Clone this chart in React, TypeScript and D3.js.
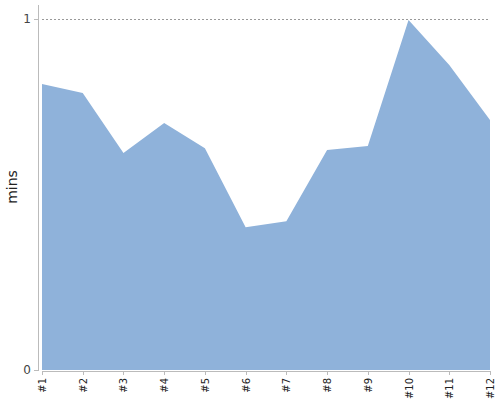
import React, { useEffect, useRef } from "react";
import * as d3 from "d3";

const categories = ["#1", "#2", "#3", "#4", "#5", "#6", "#7", "#8", "#9", "#10", "#11", "#12"];
const values = [0.815, 0.789, 0.618, 0.704, 0.632, 0.407, 0.424, 0.627, 0.638, 0.997, 0.869, 0.712];
const yTicks = [0, 1];

const App = () => {
  const ref = useRef<SVGSVGElement>(null);

  useEffect(() => {
    const width = 500;
    const height = 400;
    const svg = d3.select(ref.current).attr("width", width).attr("height", height);
    svg.selectAll("*").remove();

    const x = d3.scalePoint().domain(categories).range([42, 490]);
    const y = d3.scaleLinear().domain([0, 1]).range([370, 19]);

    const area = d3
      .area<number>()
      .x((d, i) => x(categories[i]) as number)
      .y0(y(0))
      .y1((d) => y(d));

    svg.append("path").datum(values).attr("d", area).attr("fill", "#8fb2da");

    // dashed line at max
    svg
      .append("line")
      .attr("x1", 42)
      .attr("x2", 490)
      .attr("y1", y(1) + 0.5)
      .attr("y2", y(1) + 0.5)
      .attr("stroke", "#999")
      .attr("stroke-dasharray", "2,2");

    // y axis
    svg
      .append("line")
      .attr("x1", 38.5)
      .attr("x2", 38.5)
      .attr("y1", 5)
      .attr("y2", 371)
      .attr("stroke", "#bbb");

    yTicks.forEach((t) => {
      svg
        .append("line")
        .attr("x1", 34)
        .attr("x2", 38)
        .attr("y1", y(t) + 0.5)
        .attr("y2", y(t) + 0.5)
        .attr("stroke", "#bbb");
      svg
        .append("text")
        .attr("x", 31)
        .attr("y", y(t))
        .attr("dy", "0.35em")
        .attr("text-anchor", "end")
        .attr("font-family", "DejaVu Sans, Verdana, sans-serif")
        .attr("font-size", 12)
        .attr("fill", "#444")
        .text(t);
    });

    // x axis
    svg
      .append("line")
      .attr("x1", 42)
      .attr("x2", 490)
      .attr("y1", 371.5)
      .attr("y2", 371.5)
      .attr("stroke", "#bbb");

    categories.forEach((c) => {
      const cx = Math.round(x(c) as number) + 0.5;
      svg
        .append("line")
        .attr("x1", cx)
        .attr("x2", cx)
        .attr("y1", 371)
        .attr("y2", 375)
        .attr("stroke", "#bbb");
      svg
        .append("text")
        .attr("transform", `translate(${cx + 3.5},378) rotate(-90)`)
        .attr("text-anchor", "end")
        .attr("font-family", "DejaVu Sans, Verdana, sans-serif")
        .attr("font-size", 10)
        .attr("fill", "#222")
        .text(c);
    });

    svg
      .append("text")
      .attr("transform", `translate(17,187) rotate(-90)`)
      .attr("text-anchor", "middle")
      .attr("font-family", "DejaVu Sans, Verdana, sans-serif")
      .attr("font-size", 14)
      .attr("fill", "#222")
      .text("mins");
  }, []);

  return <svg ref={ref} style={{ position: "absolute", left: 0, top: 0 }}></svg>;
};

export default App;
